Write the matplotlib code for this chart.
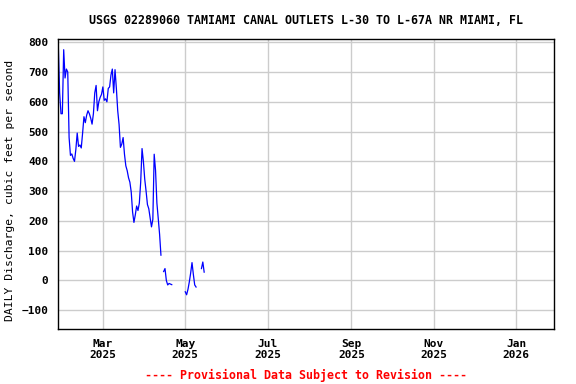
import numpy as np
import pandas as pd
import matplotlib
matplotlib.use("Agg")
import matplotlib.pyplot as plt
import matplotlib.dates as mdates

# daily discharge, starting 2025-01-27 (NaN = no data)
start_date = "2025-01-27"
discharge = [
    790, 630, 560, 560, 775, 680, 710, 700, 480, 420,
    425, 410, 400, 440, 495, 450, 455, 445, 495, 550,
    530, 555, 570, 560, 545, 525, 560, 630, 655, 570,
    600, 615, 625, 650, 605, 610, 600, 645, 650, 690,
    710, 630, 708, 645, 570, 524, 447, 458, 480, 424,
    385, 369, 345, 330, 297, 230, 195, 220, 250, 235,
    260, 330, 443, 400, 340, 300, 255, 241, 210, 180,
    205, 424, 370, 260, 208, 155, 85, np.nan, 30, 40,
    0, -15, -10, -12, -14, np.nan, np.nan, np.nan, np.nan, np.nan,
    np.nan, np.nan, np.nan, np.nan, -38, -48, -30, -5, 25, 60,
    20, -15, -22, np.nan, np.nan, np.nan, 40, 62, 28,
]
dates = pd.date_range(start_date, periods=len(discharge), freq="D")

title = "USGS 02289060 TAMIAMI CANAL OUTLETS L-30 TO L-67A NR MIAMI, FL"
ylabel = "DAILY Discharge, cubic feet per second"
footer = "---- Provisional Data Subject to Revision ----"
y_ticks = [-100, 0, 100, 200, 300, 400, 500, 600, 700, 800]

mono = "DejaVu Sans Mono"

fig = plt.figure(figsize=(5.76, 3.84), dpi=100)
ax = fig.add_axes([0.1012, 0.1432, 0.8606, 0.7545])

ax.plot(dates, discharge, color="#0000ff", lw=0.9)

ax.set_xlim(pd.Timestamp("2025-01-27"), pd.Timestamp("2026-01-29"))
ax.set_ylim(-163, 810)
ax.set_yticks(y_ticks)
ax.xaxis.set_major_locator(mdates.MonthLocator(bymonth=[1, 3, 5, 7, 9, 11]))
ax.xaxis.set_major_formatter(mdates.DateFormatter("%b\n%Y"))

ax.grid(True, color="#cccccc", lw=1)
ax.set_axisbelow(True)
ax.tick_params(length=0, labelsize=8, pad=7)
ax.tick_params(axis="y", pad=7)
for lab in ax.get_xticklabels() + ax.get_yticklabels():
    lab.set_family(mono)
    lab.set_fontweight("bold")
for s in ax.spines.values():
    s.set_linewidth(1)
    s.set_color("black")

ax.set_title(title, family=mono, fontweight="bold", fontsize=8.4, pad=11)
ax.set_ylabel(ylabel, family=mono, fontsize=8.2)
ax.yaxis.set_label_coords(-0.087, 0.48)
fig.text(0.532, 1 - 375 / 384, footer, color="red", family=mono,
         fontweight="bold", fontsize=8.4, ha="center", va="center")

fig.savefig("out.png", dpi=100)
